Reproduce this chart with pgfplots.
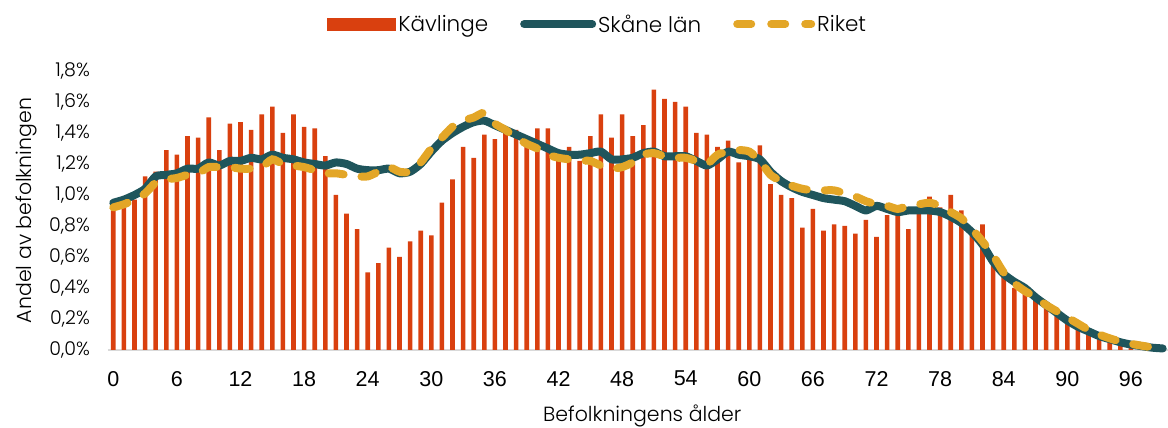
\documentclass[border=0pt]{standalone}
\usepackage{pgfplots}
\pgfplotsset{compat=1.18}
\usepackage{pgfplotstable}
\usepackage{fontspec}
\setmainfont{Poppins}[UprightFont={* Light}]
\newfontfamily\arialf{Liberation Sans}
\definecolor{kav}{HTML}{D9400F}
\definecolor{skane}{HTML}{1F555C}
\definecolor{riket}{HTML}{E3A627}
\pgfplotstableread{
age kav skane riket
0 0.94 0.95 0.92
1 0.92 0.97 0.94
2 0.97 1.00 0.97
3 1.12 1.04 1.01
4 1.15 1.12 1.08
5 1.29 1.13 1.10
6 1.26 1.14 1.11
7 1.38 1.17 1.13
8 1.37 1.17 1.14
9 1.50 1.21 1.18
10 1.29 1.19 1.18
11 1.46 1.22 1.18
12 1.47 1.22 1.17
13 1.42 1.24 1.17
14 1.52 1.23 1.18
15 1.57 1.26 1.23
16 1.40 1.24 1.20
17 1.52 1.23 1.19
18 1.44 1.21 1.18
19 1.43 1.20 1.16
20 1.25 1.19 1.14
21 1.00 1.21 1.14
22 0.88 1.20 1.13
23 0.78 1.17 1.12
24 0.50 1.16 1.12
25 0.56 1.16 1.15
26 0.66 1.17 1.18
27 0.60 1.14 1.15
28 0.70 1.15 1.15
29 0.77 1.20 1.21
30 0.74 1.28 1.30
31 0.95 1.35 1.37
32 1.10 1.40 1.44
33 1.31 1.44 1.48
34 1.24 1.47 1.50
35 1.39 1.48 1.53
36 1.36 1.45 1.46
37 1.41 1.42 1.42
38 1.42 1.39 1.37
39 1.31 1.36 1.33
40 1.43 1.33 1.30
41 1.43 1.30 1.26
42 1.26 1.27 1.24
43 1.31 1.26 1.23
44 1.22 1.26 1.22
45 1.38 1.27 1.22
46 1.52 1.28 1.19
47 1.37 1.23 1.17
48 1.52 1.23 1.18
49 1.38 1.24 1.21
50 1.45 1.27 1.26
51 1.68 1.28 1.27
52 1.62 1.25 1.25
53 1.60 1.25 1.24
54 1.57 1.25 1.24
55 1.40 1.22 1.22
56 1.39 1.19 1.20
57 1.31 1.23 1.26
58 1.35 1.28 1.28
59 1.21 1.26 1.29
60 1.23 1.25 1.28
61 1.32 1.23 1.22
62 1.07 1.15 1.13
63 1.00 1.09 1.09
64 0.98 1.05 1.06
65 0.79 1.02 1.04
66 0.91 1.00 1.03
67 0.77 0.98 1.03
68 0.81 0.97 1.03
69 0.80 0.96 1.01
70 0.75 0.93 0.99
71 0.84 0.90 0.96
72 0.73 0.93 0.94
73 0.87 0.91 0.93
74 0.87 0.89 0.91
75 0.78 0.90 0.93
76 0.89 0.90 0.94
77 0.99 0.90 0.95
78 0.92 0.89 0.93
79 1.00 0.86 0.89
80 0.90 0.82 0.85
81 0.76 0.76 0.78
82 0.81 0.68 0.70
83 0.58 0.57 0.61
84 0.47 0.49 0.50
85 0.40 0.44 0.43
86 0.36 0.40 0.38
87 0.33 0.34 0.34
88 0.28 0.29 0.29
89 0.24 0.24 0.25
90 0.18 0.19 0.21
91 0.15 0.15 0.17
92 0.10 0.12 0.13
93 0.09 0.09 0.10
94 0.07 0.07 0.075
95 0.04 0.05 0.055
96 0.03 0.035 0.04
97 0.015 0.025 0.028
98 0.008 0.015 0.017
99 0.004 0.01 0.01
}\data
\begin{document}
\begin{tikzpicture}
\begin{axis}[
  scale only axis,
  width=1060pt, height=279pt,
  xmin=-0.5, xmax=99.5, ymin=0, ymax=1.8,
  axis x line*=bottom, axis y line*=left,
  y axis line style={draw=none},
  x axis line style={-, draw=black!15, line width=1.5pt},
  major tick length=0pt,
  xtick={0,6,...,96},
  xticklabels={0,6,12,18,24,30,36,42,48,54,60,66,72,78,84,90,96},
  xticklabel style={font=\arialf\fontsize{21.5}{21.5}\selectfont, anchor=north, inner sep=0pt, yshift=-21pt},
  ytick={0,0.2,...,1.8},
  yticklabels={{0,0\%},{0,2\%},{0,4\%},{0,6\%},{0,8\%},{1,0\%},{1,2\%},{1,4\%},{1,6\%},{1,8\%}},
  yticklabel style={font=\fontsize{19}{19}\selectfont, anchor=east, inner sep=0pt, xshift=-18pt},
  xlabel={Befolkningens ålder},
  every axis x label/.style={at={(axis description cs:0.504,0)}, anchor=base, yshift=-72pt, font=\fontsize{20.5}{20.5}\selectfont},
  ylabel={Andel av befolkningen},
  every axis y label/.style={at={(axis description cs:-0.0726,0.5)}, rotate=90, anchor=base, font=\fontsize{20.5}{20.5}\selectfont},
  legend columns=3,
  legend style={at={(axis description cs:0.462,1.168)}, anchor=center, draw=none, fill=none,
    font=\fontsize{21.5}{21.5}\selectfont, nodes={inner sep=2pt},
    /tikz/every even column/.append style={column sep=30pt}},
  clip=false,
]
\addplot[ybar, bar width=4.6pt, fill=kav, draw=none,
  legend image code/.code={\fill[kav] (0pt,-6.5pt) rectangle (69pt,6.5pt);}]
  table[x=age, y=kav] {\data};
\addlegendentry{Kävlinge}
\addplot[skane, line width=8pt, smooth, tension=0.4, line cap=round, line join=round,
  legend image code/.code={\draw[skane, line width=8pt, line cap=round] (4pt,0pt) -- (72pt,0pt);}]
  table[x=age, y=skane] {\data};
\addlegendentry{Skåne län}
\addplot[riket, line width=8pt, smooth, tension=0.4, line cap=round, dash pattern=on 15pt off 18pt,
  legend image code/.code={\draw[riket, line width=8pt, line cap=round, dash pattern=on 14pt off 20pt] (4pt,0pt) -- (78pt,0pt);}]
  table[x=age, y=riket] {\data};
\addlegendentry{Riket}
\end{axis}
\pgfresetboundingbox
\path[use as bounding box] (-108pt,-78pt) rectangle (1060pt,350pt);
\end{tikzpicture}
\end{document}
